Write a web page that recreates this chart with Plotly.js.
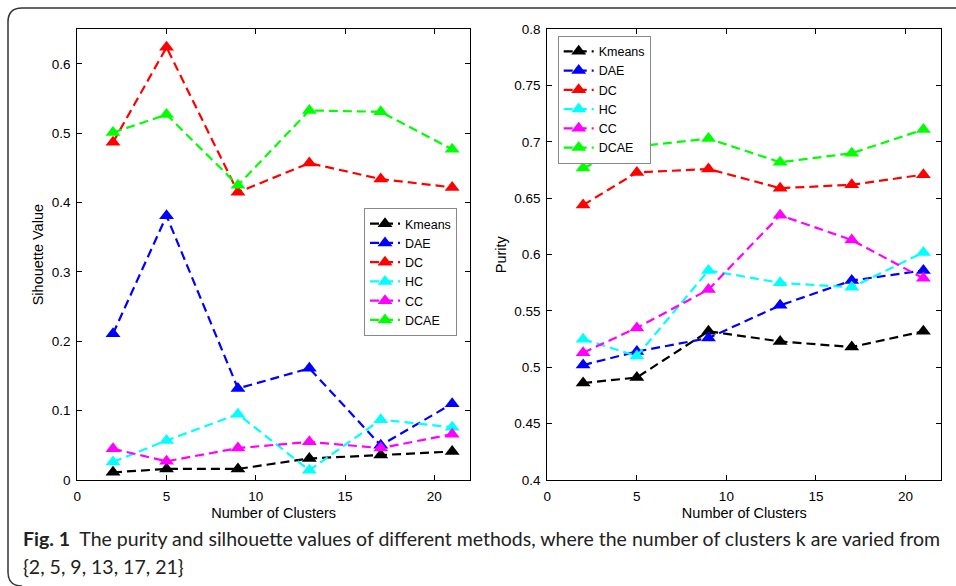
<!DOCTYPE html>
<html>
<head>
<meta charset="utf-8">
<script src="https://cdn.plot.ly/plotly-3.0.1.min.js"></script>
<style>
html,body{margin:0;padding:0;background:#fff;}
#chart{width:956px;height:586px;}
</style>
</head>
<body>
<div id="chart"></div>
<script>
// ---- data ----
const clusters = [2, 5, 9, 13, 17, 21];
const methods = ["Kmeans", "DAE", "DC", "HC", "CC", "DCAE"];
const colors = ["#000000", "#0000FF", "#FF0000", "#00FFFF", "#FF00FF", "#00FF00"];

// Silhouette values (left panel)
const silKmeans = [0.011, 0.016, 0.016, 0.031, 0.036, 0.041];
const silDAE    = [0.211, 0.381, 0.132, 0.161, 0.050, 0.110];
const silDC     = [0.487, 0.624, 0.415, 0.457, 0.434, 0.422];
const silHC     = [0.026, 0.057, 0.095, 0.014, 0.087, 0.076];
const silCC     = [0.045, 0.027, 0.046, 0.055, 0.046, 0.066];
const silDCAE   = [0.501, 0.527, 0.425, 0.533, 0.531, 0.477];

// Purity values (right panel)
const purKmeans = [0.486, 0.491, 0.532, 0.523, 0.518, 0.532];
const purDAE    = [0.502, 0.514, 0.526, 0.555, 0.577, 0.586];
const purDC     = [0.644, 0.673, 0.676, 0.659, 0.662, 0.671];
const purHC     = [0.525, 0.510, 0.586, 0.575, 0.571, 0.602];
const purCC     = [0.513, 0.535, 0.569, 0.635, 0.613, 0.579];
const purDCAE   = [0.677, 0.696, 0.703, 0.682, 0.690, 0.711];

const silSeries = [silKmeans, silDAE, silDC, silHC, silCC, silDCAE];
const purSeries = [purKmeans, purDAE, purDC, purHC, purCC, purDCAE];

const xTicks = [0, 5, 10, 15, 20];
const silTicks = [0, 0.1, 0.2, 0.3, 0.4, 0.5, 0.6];
const purTicks = [0.4, 0.45, 0.5, 0.55, 0.6, 0.65, 0.7, 0.75, 0.8];

const axisTitleX = "Number of Clusters";
const axisTitleSil = "Sihouette Value";
const axisTitlePur = "Purity";
const captionBold = "Fig. 1";
const captionLine1 = "The purity and silhouette values of different methods, where the number of clusters k are varied from";
const captionLine2 = "{2, 5, 9, 13, 17, 21}";

// ---- build ----
const W = 956, H = 586;
const px = v => v / W;
const py = v => 1 - v / H;
const FONT = "Liberation Sans, Arial, sans-serif";
const CAPFONT = "Lato, Liberation Sans, sans-serif";

function mkTrace(name, y, color, xa, ya, legend) {
  return {
    type: "scatter", mode: "lines+markers",
    x: clusters, y: y, name: name,
    xaxis: xa, yaxis: ya, legend: legend,
    line: {color: color, width: 2.2, dash: "9px,5px"},
    marker: {symbol: "triangle-up", size: 13, color: color},
    hoverinfo: "x+y+name"
  };
}

const traces = [];
methods.forEach((m, i) => traces.push(mkTrace(m, silSeries[i], colors[i], "x", "y", "legend")));
methods.forEach((m, i) => traces.push(mkTrace(m, purSeries[i], colors[i], "x2", "y2", "legend2")));

const baseAxis = {
  showline: true, linecolor: "#000", linewidth: 1, mirror: "ticks",
  ticks: "inside", ticklen: 5, tickcolor: "#000", tickwidth: 1,
  showgrid: false, zeroline: false,
  tickfont: {family: FONT, size: 13.5, color: "#000"}
};

const legendBase = {
  bgcolor: "#fff", bordercolor: "#888", borderwidth: 1,
  font: {family: FONT, size: 12.5, color: "#000"},
  xanchor: "left", yanchor: "top", itemwidth: 30,
  tracegroupgap: 0
};

const layout = {
  width: W, height: H,
  margin: {l: 0, r: 0, t: 0, b: 0},
  paper_bgcolor: "#fff", plot_bgcolor: "#fff",
  showlegend: true,
  xaxis: Object.assign({}, baseAxis, {
    domain: [px(77.3), px(470)], range: [0, 22], anchor: "y",
    tickvals: xTicks, ticklabelstandoff: 4,
    title: {text: axisTitleX, font: {family: FONT, size: 14.5, color: "#000"}, standoff: 4}
  }),
  yaxis: Object.assign({}, baseAxis, {
    domain: [py(480), py(29.3)], range: [0, 0.65], anchor: "x",
    tickvals: silTicks, ticklabelstandoff: 3,
    title: {text: axisTitleSil, font: {family: FONT, size: 14.5, color: "#000"}, standoff: 4}
  }),
  xaxis2: Object.assign({}, baseAxis, {
    domain: [px(547.3), px(941.3)], range: [0, 22], anchor: "y2",
    tickvals: xTicks, ticklabelstandoff: 4,
    title: {text: axisTitleX, font: {family: FONT, size: 14.5, color: "#000"}, standoff: 4}
  }),
  yaxis2: Object.assign({}, baseAxis, {
    domain: [py(480), py(29.3)], range: [0.4, 0.8], anchor: "x2",
    tickvals: purTicks, ticklabelstandoff: 3,
    title: {text: axisTitlePur, font: {family: FONT, size: 14.5, color: "#000"}, standoff: 4}
  }),
  legend: Object.assign({}, legendBase, {x: px(364), y: py(208)}),
  legend2: Object.assign({}, legendBase, {x: px(557.7), y: py(35.7)}),
  shapes: [{
    type: "path", xref: "paper", yref: "paper",
    path: `M ${px(956)},${py(8)} L ${px(22)},${py(8)} Q ${px(8)},${py(8)} ${px(8)},${py(22)} L ${px(8)},${py(572)} Q ${px(8)},${py(586)} ${px(22)},${py(586)}`,
    line: {color: "#333", width: 1.5}
  }],
  annotations: [
    {xref: "paper", yref: "paper", x: px(21), y: py(538), xanchor: "left", yanchor: "middle",
     showarrow: false, align: "left",
     text: `<b>${captionBold}</b>  ${captionLine1}`,
     font: {family: CAPFONT, size: 19.5, color: "#222"}},
    {xref: "paper", yref: "paper", x: px(21), y: py(566), xanchor: "left", yanchor: "middle",
     showarrow: false, align: "left",
     text: captionLine2,
     font: {family: CAPFONT, size: 19.5, color: "#222"}}
  ]
};

Plotly.newPlot("chart", traces, layout, {displayModeBar: false, staticPlot: true});
</script>
</body>
</html>
